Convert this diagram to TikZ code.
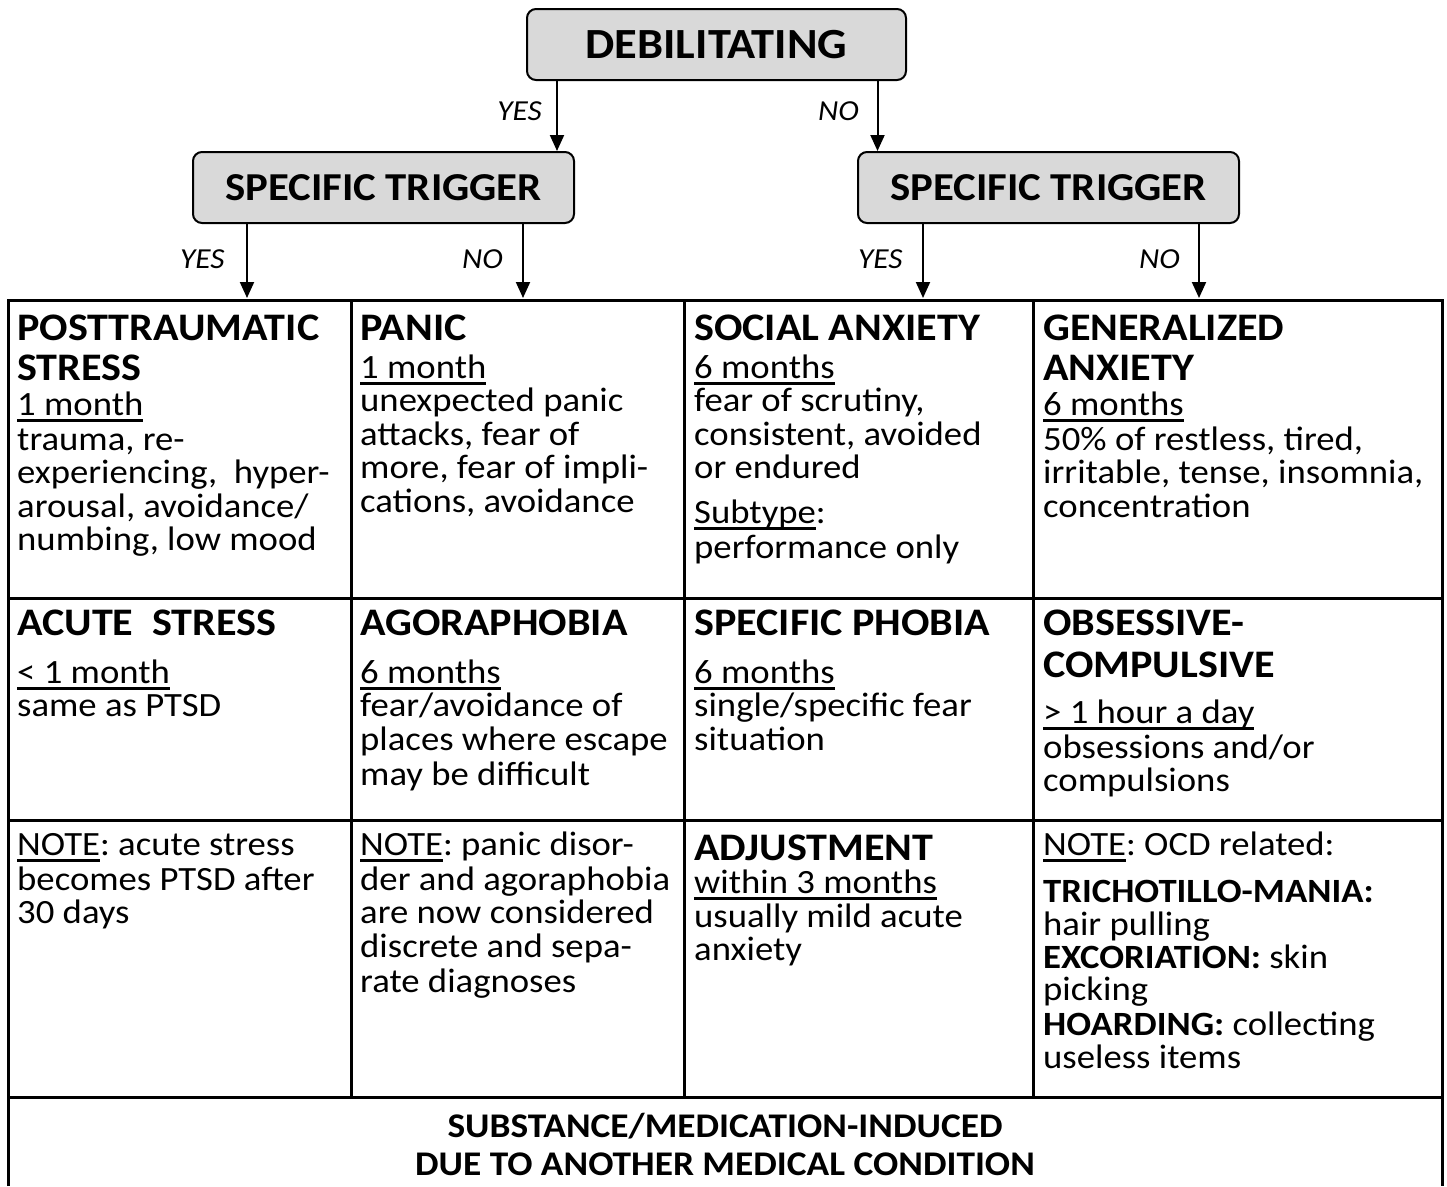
\documentclass[tikz,border=0pt]{standalone}
\usepackage{fontspec}
\setmainfont{Carlito}[FakeStretch=1.08]
\usetikzlibrary{arrows.meta}
\definecolor{boxgray}{HTML}{D9D9D9}
\frenchspacing
\newcommand\ul[1]{\setbox0\hbox{#1}\rlap{\rule[-6.5pt]{\wd0}{2.4pt}}\box0}
\newcommand\Tx[5][txt]{\node[#1] (#2) at (#3,#4) {#5};}
\tikzset{
  txt/.style={anchor=base west, inner sep=0pt, font=\fontsize{34}{40}\selectfont},
  hd/.style={txt, font=\fontsize{39}{45}\selectfont\bfseries},
  bt/.style={anchor=base, inner sep=0pt, font=\fontsize{34.6}{40}\selectfont\bfseries},
  lab/.style={inner sep=0pt, font=\fontsize{29}{34}\selectfont\itshape},
  dbox/.style={draw, line width=2pt, fill=boxgray, rounded corners=9pt, inner sep=0pt},
  arr/.style={line width=2pt, -{Triangle[length=16pt,width=14pt]}},
  gridline/.style={line width=3pt}
}
\begin{document}
\begin{tikzpicture}[x=1pt, y=-1pt]
\useasboundingbox (0,0) rectangle (1447,1186);
% decision boxes
\node[dbox, minimum width=379pt, minimum height=71pt, font=\fontsize{43}{50}\selectfont\bfseries] (deb) at (716.5,44.5) {DEBILITATING};
\node[dbox, minimum width=381pt, minimum height=71pt, font=\fontsize{39.6}{45}\selectfont\bfseries] (stl) at (383.5,187.5) {SPECIFIC TRIGGER};
\node[dbox, minimum width=381pt, minimum height=71pt, font=\fontsize{39.6}{45}\selectfont\bfseries] (str) at (1048.5,187.5) {SPECIFIC TRIGGER};
% arrow x positions and table targets
\coordinate (xa) at (557,0);
\coordinate (xb) at (877.5,0);
\coordinate (t1) at (247,298);
\coordinate (t2) at (523,298);
\coordinate (t3) at (923,298);
\coordinate (t4) at (1199,298);
\draw[arr] (xa |- deb.south) -- (xa |- stl.north);
\draw[arr] (xb |- deb.south) -- (xb |- str.north);
\draw[arr] (t1 |- stl.south) -- (t1);
\draw[arr] (t2 |- stl.south) -- (t2);
\draw[arr] (t3 |- str.south) -- (t3);
\draw[arr] (t4 |- str.south) -- (t4);
\node[lab, anchor=base east] (ly0) at (542,120) {YES};
\node[lab, anchor=base west] (ln0) at (818,120) {NO};
\node[lab, anchor=base west] (ly1) at (180,268) {YES};
\node[lab, anchor=base west] (ln1) at (462,268) {NO};
\node[lab, anchor=base west] (ly2) at (858,268) {YES};
\node[lab, anchor=base west] (ln2) at (1139,268) {NO};
% table grid
\draw[gridline] (8,1186) -- (8,300) -- (1442,300) -- (1442,1186);
\draw[gridline] (8,598) -- (1442,598);
\draw[gridline] (8,820) -- (1442,820);
\draw[gridline] (8,1097) -- (1442,1097);
\draw[gridline] (351,300) -- (351,1097);
\draw[gridline] (684,300) -- (684,1097);
\draw[gridline] (1033,300) -- (1033,1097);
% row 1, col 1
\Tx[hd]{a1}{17}{340}{POSTTRAUMATIC}
\Tx[hd]{a2}{17}{380}{STRESS}
\Tx{a3}{17}{415}{\ul{1 month}}
\Tx{a4}{17}{450}{trauma, re-}
\Tx{a5}{17}{483}{experiencing,\ \ hyper-}
\Tx{a6}{17}{517}{arousal, avoidance/}
\Tx{a7}{17}{550}{numbing, low mood}
% row 1, col 2
\Tx[hd]{b1}{360}{340}{PANIC}
\Tx{b2}{360}{378}{\ul{1 month}}
\Tx{b3}{360}{411}{unexpected panic}
\Tx{b4}{360}{445}{attacks, fear of}
\Tx{b5}{360}{478}{more, fear of impli-}
\Tx{b6}{360}{512}{cations, avoidance}
% row 1, col 3
\Tx[hd]{c1}{694}{340}{SOCIAL ANXIETY}
\Tx{c2}{694}{378}{\ul{6 months}}
\Tx{c3}{694}{411}{fear of scrutiny,}
\Tx{c4}{694}{445}{consistent, avoided}
\Tx{c5}{694}{478}{or endured}
\Tx{c6}{694}{523}{\ul{Subtype}:}
\Tx{c7}{694}{558}{performance only}
% row 1, col 4
\Tx[hd]{d1}{1043}{340}{GENERALIZED}
\Tx[hd]{d2}{1043}{380}{ANXIETY}
\Tx{d3}{1043}{415}{\ul{6 months}}
\Tx{d4}{1043}{450}{50\% of restless, tired,}
\Tx{d5}{1043}{483}{irritable, tense, insomnia,}
\Tx{d6}{1043}{517}{concentration}
% row 2, col 1
\Tx[hd]{e1}{17}{635}{ACUTE\ \ STRESS}
\Tx{e2}{17}{683}{\ul{< 1 month}}
\Tx{e3}{17}{716}{same as PTSD}
% row 2, col 2
\Tx[hd]{f1}{360}{635}{AGORAPHOBIA}
\Tx{f2}{360}{683}{\ul{6 months}}
\Tx{f3}{360}{716}{fear/avoidance of}
\Tx{f4}{360}{750}{places where escape}
\Tx{f5}{360}{785}{may be difficult}
% row 2, col 3
\Tx[hd]{g1}{694}{635}{SPECIFIC PHOBIA}
\Tx{g2}{694}{683}{\ul{6 months}}
\Tx{g3}{694}{716}{single/specific fear}
\Tx{g4}{694}{750}{situation}
% row 2, col 4
\Tx[hd]{h1}{1043}{635}{OBSESSIVE-}
\Tx[hd]{h2}{1043}{677}{COMPULSIVE}
\Tx{h3}{1043}{723}{\ul{> 1 hour a day}}
\Tx{h4}{1043}{758}{obsessions and/or}
\Tx{h5}{1043}{791}{compulsions}
% row 3, col 1
\Tx{i1}{17}{855}{\ul{NOTE}: acute stress}
\Tx{i2}{17}{890}{becomes PTSD after}
\Tx{i3}{17}{923}{30 days}
% row 3, col 2
\Tx{j1}{360}{855}{\ul{NOTE}: panic disor-}
\Tx{j2}{360}{890}{der and agoraphobia}
\Tx{j3}{360}{923}{are now considered}
\Tx{j4}{360}{957}{discrete and sepa-}
\Tx{j5}{360}{992}{rate diagnoses}
% row 3, col 3
\Tx[hd]{k1}{694}{860}{ADJUSTMENT}
\Tx{k2}{694}{893}{\ul{within 3 months}}
\Tx{k3}{694}{927}{usually mild acute}
\Tx{k4}{694}{960}{anxiety}
% row 3, col 4
\Tx{l1}{1043}{855}{\ul{NOTE}: OCD related:}
\Tx{l2}{1043}{902}{\textbf{TRICHOTILLO-MANIA:}}
\Tx{l3}{1043}{935}{hair pulling}
\Tx{l4}{1043}{968}{\textbf{EXCORIATION:} skin}
\Tx{l5}{1043}{1000}{picking}
\Tx{l6}{1043}{1035}{\textbf{HOARDING:} collecting}
\Tx{l7}{1043}{1068}{useless items}
% bottom row
\node[bt] (m1) at (725,1137) {SUBSTANCE/MEDICATION-INDUCED};
\node[bt] (m2) at (725,1175) {DUE TO ANOTHER MEDICAL CONDITION};
\end{tikzpicture}
\end{document}
